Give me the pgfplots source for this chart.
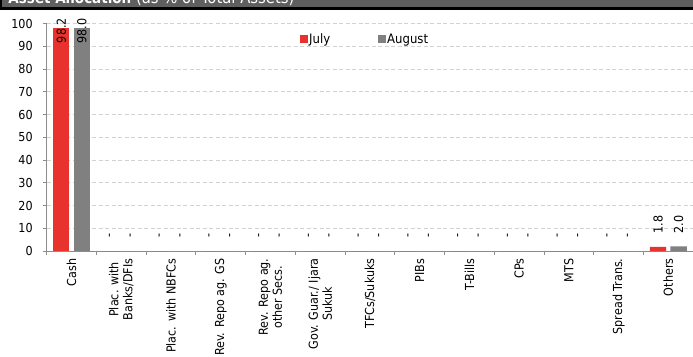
\documentclass[border=0pt]{standalone}
\usepackage{pgfplots}
\pgfplotsset{compat=1.18}
\usepackage{pgfplotstable}
\usepackage{fontspec}
\setmainfont{DejaVu Sans Condensed}
\definecolor{cred}{RGB}{232,50,45}
\definecolor{cgray}{RGB}{128,128,128}
\definecolor{tbar}{RGB}{95,95,95}
\definecolor{axgray}{RGB}{140,140,140}
\definecolor{gridgray}{RGB}{210,210,210}
\newcommand\lf{\fontsize{12.4pt}{14pt}\selectfont}
\newcommand\lgf{\fontsize{13pt}{15pt}\selectfont}
\pgfplotsset{sq legend/.style={legend image code/.code={\fill[##1] (0pt,-4pt) rectangle (8pt,4pt);}},
  lblup/.style={nodes near coords, point meta=explicit symbolic,
    every node near coord/.append style={rotate=90, anchor=west, outer xsep=10pt, font=\lf, text=black}},
  lblmid/.style={nodes near coords, point meta=explicit symbolic,
    every node near coord/.append style={yshift=-3pt, rotate=90, anchor=center, font=\lf, text=black}}}

% big values (Cash)
\pgfplotstableread{
x jul aug
0 98.2 98.0
}\cashtable
% remaining categories
\pgfplotstableread{
x jul aug ljul laug
1 0 0 - -
2 0 0 - -
3 0 0 - -
4 0 0 - -
5 0 0 - -
6 0 0 - -
7 0 0 - -
8 0 0 - -
9 0 0 - -
10 0 0 - -
11 0 0 - -
12 1.8 2.0 1.8 2.0
}\resttable

\begin{document}
\begin{tikzpicture}
\fill[tbar] (0pt,348.7pt) rectangle (693pt,372pt);
\fill[black] (0pt,346.3pt) rectangle (693pt,348.7pt);
\fill[black] (0pt,346.3pt) rectangle (2pt,372pt);
\node[anchor=base west, text=white, inner sep=0pt] at (8.3pt,352pt) {\fontsize{15}{17}\selectfont\textbf{Asset Allocation}\fontsize{16.5}{18}\selectfont\ (as \% of Total Assets)};
\begin{axis}[
 at={(46.7pt,105pt)}, anchor=south west,
 scale only axis, width=646.5pt, height=227.5pt,
 xmin=-0.5, xmax=12.5, ymin=0, ymax=100,
 ybar, bar width=16.3pt,
 axis x line*=bottom, axis y line*=left,
 axis line style={-, draw=axgray, line width=0.8pt},
 ytick={0,10,...,100}, xtick={0,...,12},
 xticklabels={Cash,{Plac. with\\Banks/DFIs},Plac. with NBFCs,Rev. Repo ag. GS,{Rev. Repo ag.\\other Secs.},{Gov. Guar./ Ijara\\Sukuk},TFCs/Sukuks,PIBs,T-Bills,CPs,MTS,Spread Trans.,Others},
 major x tick style={draw=none},
 minor xtick={-0.5,0.5,...,12.5},
 tick align=outside, major tick length=4pt, minor tick length=3.5pt,
 tick style={axgray, line width=0.8pt},
 ymajorgrids, grid style={gridgray, dash pattern=on 4pt off 2.5pt, line width=0.8pt},
 x tick label style={rotate=90, anchor=east, align=center, font=\lf, text=black},
 y tick label style={font=\lf, text=black, xshift=-6.5pt},
 /pgf/number format/assume math mode=true,
 clip=false,
 legend columns=2,
 legend style={at={(0.3918,0.9297)}, anchor=west, draw=none, fill=none, inner sep=0pt, font=\lgf,
   nodes={inner sep=1pt}, /tikz/every even column/.append style={column sep=47pt}},
]
\addplot[fill=cred, draw=none, bar shift=-10.3pt, sq legend, lblup]
  table[x=x, y=jul, meta=ljul]{\resttable};
\addplot[fill=cgray, draw=none, bar shift=10.3pt, sq legend, lblup]
  table[x=x, y=aug, meta=laug]{\resttable};
\addplot[fill=cred, draw=none, bar shift=-10.3pt, forget plot, lblmid]
  table[x=x, y=jul, meta=jul]{\cashtable};
\addplot[fill=cgray, draw=none, bar shift=10.3pt, forget plot, lblmid]
  table[x=x, y=aug, meta=aug]{\cashtable};
\legend{July,August}
\end{axis}
\pgfresetboundingbox
\path[use as bounding box] (0pt,0pt) rectangle (693pt,356pt);
\end{tikzpicture}
\end{document}
